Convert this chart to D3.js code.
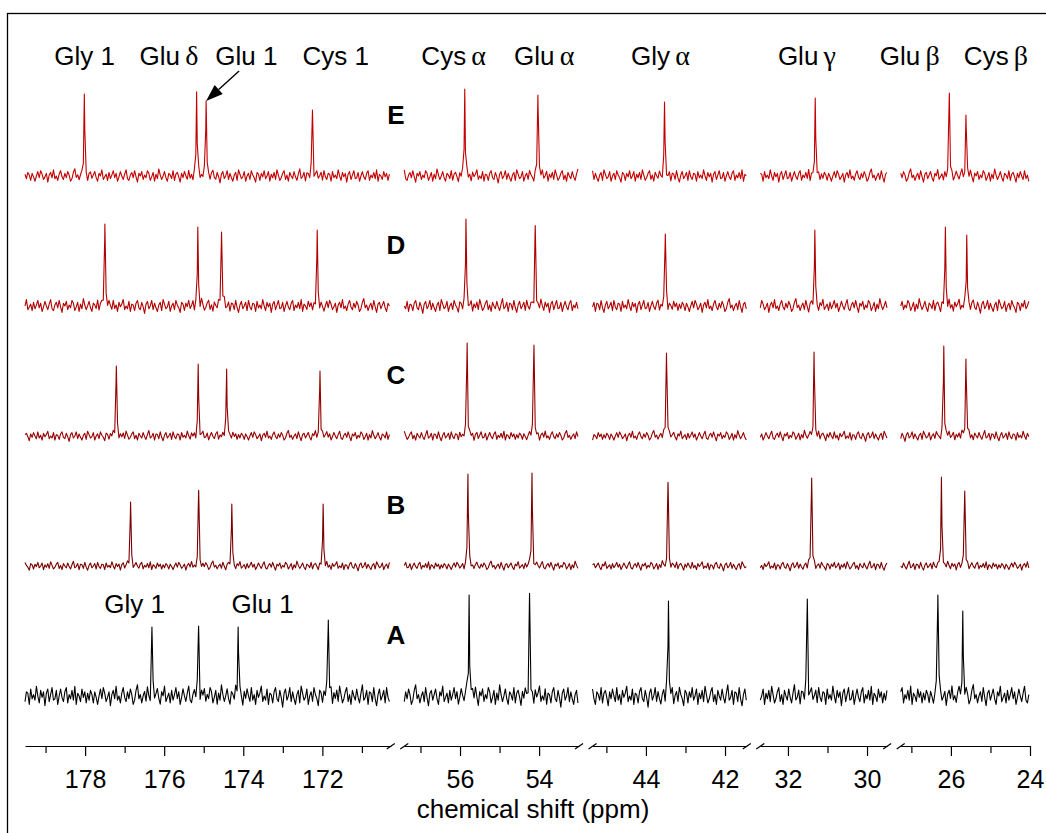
<!DOCTYPE html>
<html>
<head>
<meta charset="utf-8">
<script src="https://cdn.jsdelivr.net/npm/d3@7"></script>
<style>
  html, body { margin: 0; padding: 0; background: #fff; }
  svg { display: block; }
  text { font-family: "Liberation Sans", Arial, sans-serif; fill: #000; }
</style>
</head>
<body>
<svg id="chart" width="1046" height="833"></svg>
<script>
// 13C spectra, stacked top (E) to bottom (A)
const traceNames  = ["E", "D", "C", "B", "A"];
const traceColors = ["#c20000", "#b00000", "#960000", "#7a0000", "#000000"];

// resonances, in the same order as the shift / height arrays
const resonances = ["Gly 1", "Glu δ", "Glu 1", "Cys 1", "Cys α", "Glu α", "Gly α", "Glu γ", "Glu β", "Cys β"];

// chemical shifts (ppm)
const shiftsE = [178.02, 175.18, 174.94, 172.25, 55.88, 54.03, 43.53, 31.31, 26.04, 25.62];
const shiftsD = [177.50, 175.15, 174.55, 172.13, 55.85, 54.10, 43.51, 31.32, 26.14, 25.60];
const shiftsC = [177.21, 175.14, 174.42, 172.06, 55.82, 54.13, 43.48, 31.34, 26.18, 25.62];
const shiftsB = [176.85, 175.13, 174.29, 171.98, 55.80, 54.18, 43.44, 31.40, 26.24, 25.65];
const shiftsA = [176.31, 175.13, 174.13, 171.85, 55.77, 54.24, 43.43, 31.51, 26.33, 25.70];

// peak intensities (arbitrary units)
const heightsE = [82, 84, 75, 66, 87, 81, 74, 78, 83, 61];
const heightsD = [82, 79, 74, 76, 87, 78, 72, 76, 79, 71];
const heightsC = [70, 72, 67, 65, 93, 91, 83, 84, 90, 77];
const heightsB = [64, 74, 62, 62, 92, 93, 83, 88, 89, 75];
const heightsA = [69, 70, 69, 76, 101, 97, 95, 97, 101, 85];

// baseline noise level of each spectrum
const noiseLevel = [0.88, 0.92, 0.68, 0.6, 1.4];

// recorded baseline noise samples
const noise = [2,-3,4,1,-5,3,-1,-6,0,5,-2,6,2,-4,-1,3,-7,1,4,-2,7,-3,0,-5,2,6,-1,-4,3,-2,
  5,1,-6,-3,4,8,-2,1,-5,0,3,-4,6,-1,-7,2,4,-3,1,5,-2,-6,3,0,7,-4,-1,2,-5,4,
  -3,1,6,-2,3,-6,-1,5,0,-4,2,7,-3,-5,1,4,-2,6,-1,-7,3,0,5,-4,1,-2,6,3,-5,-1,
  4,-6,2,-3,8,1,-4,0,5,-2,-6,3,1,-3,6,-5,2,4,-1,-7,3,-2,5,0,-4,6,-3,1,-6,4,
  -1,2,7,-4,0,-3,5,-6,2,1,-5,3,6,-2,-4,4,-1,-8,2,5,-3,0,6,-4,3,-2,-6,1,4,-5,
  7,2,-3,-1,5,-6,0,3,-4,6,1,-2,-7,4,2,-5,3,-1,6,-3,0,5,-6,2,-2,4,-4,7,1,-5,
  -2,3,6,-4,1,-6,4,0,-3,5,-1,-5,2,8,-3,-1,4,-6,3,2,-4,6,-2,-7,1,5,-3,0,4,-5,
  6,-1,-4,3,2,-6,5,-2,1,-3,7,0,-5,4,-1,3,-7,2,5,-4,1,6,-3,-2,4,-6,0,5,-1,-4,
  3,6,-5,1,-2,4,-3,7,-6,2,0,-4,5,-1,3,-5];

// broken ppm axis: [start, end] of each displayed window
const segments   = [[179.52, 170.27], [57.41, 52.99], [45.35, 41.45], [32.70, 29.49], [27.27, 24.00]];
const majorTicks = [[178, 176, 174, 172], [56, 54], [44, 42], [32, 30], [26, 24]];
const minorTicks = [[179, 177, 175, 173, 171], [57, 55], [45, 43], [31], [27, 25]];

// resonance labels above the stack
const labelLatin  = ["Gly 1", "Glu", "Glu 1", "Cys 1", "Cys", "Glu", "Gly", "Glu", "Glu", "Cys"];
const labelGreek  = ["", "δ", "", "", "α", "α", "α", "γ", "β", "β"];
const labelShifts = [178.01, 175.88, 173.92, 171.66, 56.16, 53.87, 43.63, 31.52, 27.04, 24.86];

// labels next to spectrum A
const refLabels = ["Gly 1", "Glu 1"];
const refLabelShifts = [176.75, 173.51];

const axisTitle = "chemical shift (ppm)";

const allShifts  = [shiftsE, shiftsD, shiftsC, shiftsB, shiftsA];
const allHeights = [heightsE, heightsD, heightsC, heightsB, heightsA];

// ---------------------------------------------------------------
const svg = d3.select("#chart");
const W = 1046, H = 833;

// frame
svg.append("rect")
  .attr("x", 7.5).attr("y", 13.5).attr("width", W + 20).attr("height", H + 20)
  .attr("fill", "none").attr("stroke", "#000").attr("stroke-width", 1.3);

// one linear scale per window, same ppm-per-pixel everywhere
const plotLeft = 25, plotRight = 1030, gap = 13.5;
const spans = segments.map(s => s[0] - s[1]);
const k = (plotRight - plotLeft - gap * (segments.length - 1)) / d3.sum(spans);
let cursor = plotLeft;
const xs = segments.map((s, i) => {
  const sc = d3.scaleLinear().domain(s).range([cursor, cursor + spans[i] * k]);
  cursor += spans[i] * k + gap;
  return sc;
});
const segIndex = ppm => segments.findIndex(s => ppm <= s[0] && ppm >= s[1]);
const X = ppm => xs[segIndex(ppm)](ppm);

// vertical placement of each spectrum
const baseY = d3.scalePoint().domain(traceNames).range([176, 696]);
const yFor = name => d3.scaleLinear().domain([0, 100]).range([baseY(name), baseY(name) - 100]);

// spectra
const step = 0.036, gamma = 0.012;
traceNames.forEach((name, t) => {
  const shifts = allShifts[t], heights = allHeights[t];
  const y = yFor(name);
  const g = svg.append("g").attr("class", "spectrum-" + name);
  segments.forEach((seg, si) => {
    const pts = [];
    let n = 0;
    const offset = t * 53 + si * 71;
    for (let p = seg[0]; p >= seg[1] - 1e-9; p -= step) {
      pts.push({ p, nz: noise[(offset + n) % noise.length] * noiseLevel[t] });
      n++;
    }
    shifts.forEach(s => { if (s <= seg[0] && s >= seg[1]) pts.push({ p: s, nz: 0 }); });
    pts.sort((a, b) => b.p - a.p);
    pts.forEach(d => {
      d.v = d.nz + d3.sum(shifts, (s, j) => heights[j] / (1 + ((d.p - s) / gamma) ** 2));
    });
    const line = d3.line().x(d => xs[si](d.p)).y(d => y(d.v));
    g.append("path").datum(pts)
      .attr("d", line)
      .attr("fill", "none")
      .attr("stroke", traceColors[t])
      .attr("stroke-width", 1.1)
      .attr("stroke-linejoin", "round");
  });
  // spectrum letter in the first gap
  svg.append("text")
    .attr("x", 396).attr("y", baseY(name) - 52)
    .attr("text-anchor", "middle")
    .style("font-size", "26px").style("font-weight", "bold")
    .text(name);
});

// axis
const axisY = 746;
const axisG = svg.append("g").attr("transform", `translate(0,${axisY})`);
xs.forEach((sc, i) => {
  const major = axisG.append("g").call(
    d3.axisBottom(sc).tickValues(majorTicks[i]).tickSize(10).tickSizeOuter(0).tickFormat(d3.format("d")));
  major.select(".domain").attr("stroke-width", 1.2);
  major.selectAll(".tick line").attr("stroke-width", 1.2);
  major.selectAll(".tick text")
    .attr("y", 42).attr("dy", null)
    .style("font-family", "'Liberation Sans', Arial, sans-serif")
    .style("font-size", "25px");
  const minor = axisG.append("g").call(
    d3.axisBottom(sc).tickValues(minorTicks[i]).tickSize(7).tickFormat(""));
  minor.select(".domain").remove();
  minor.selectAll(".tick line").attr("stroke-width", 1.2);
});

// break marks
xs.forEach((sc, i) => {
  const r = sc.range();
  const ends = [];
  if (i > 0) ends.push(r[0]);
  if (i < xs.length - 1) ends.push(r[1]);
  ends.forEach(xv => {
    axisG.append("line")
      .attr("x1", xv - 4).attr("y1", 3).attr("x2", xv + 4).attr("y2", -2.5)
      .attr("stroke", "#000").attr("stroke-width", 1.2);
  });
});

// axis title
svg.append("text")
  .attr("x", 533).attr("y", 818)
  .attr("text-anchor", "middle")
  .style("font-size", "26px")
  .text(axisTitle);

// resonance labels
labelShifts.forEach((s, i) => {
  const t = svg.append("text")
    .attr("x", X(s)).attr("y", 65)
    .attr("text-anchor", "middle")
    .style("font-size", "26px");
  t.append("tspan").text(labelLatin[i]);
  if (labelGreek[i]) {
    t.append("tspan").text("\u2009");
    t.append("tspan")
      .style("font-family", "'Liberation Serif', 'Times New Roman', serif")
      .style("font-size", "28px")
      .text(labelGreek[i]);
  }
});

refLabels.forEach((lab, i) => {
  svg.append("text")
    .attr("x", X(refLabelShifts[i])).attr("y", 613)
    .attr("text-anchor", "middle")
    .style("font-size", "26px")
    .text(lab);
});

// arrow to the Glu 1 peak of spectrum E
const gi = resonances.indexOf("Glu 1");
const tipX = X(shiftsE[gi]), tipY = yFor("E")(heightsE[gi]);
const startX = tipX + 33, startY = tipY - 30;
const len = Math.hypot(tipX - startX, tipY - startY);
const ux = (tipX - startX) / len, uy = (tipY - startY) / len;
const headL = 17, headW = 6;
const bx = tipX - ux * headL, by = tipY - uy * headL;
svg.append("line")
  .attr("x1", startX).attr("y1", startY).attr("x2", bx).attr("y2", by)
  .attr("stroke", "#000").attr("stroke-width", 1.4);
svg.append("path")
  .attr("d", `M${tipX},${tipY}L${bx - uy * headW},${by + ux * headW}L${bx + uy * headW},${by - ux * headW}Z`)
  .attr("fill", "#000");
</script>
</body>
</html>
